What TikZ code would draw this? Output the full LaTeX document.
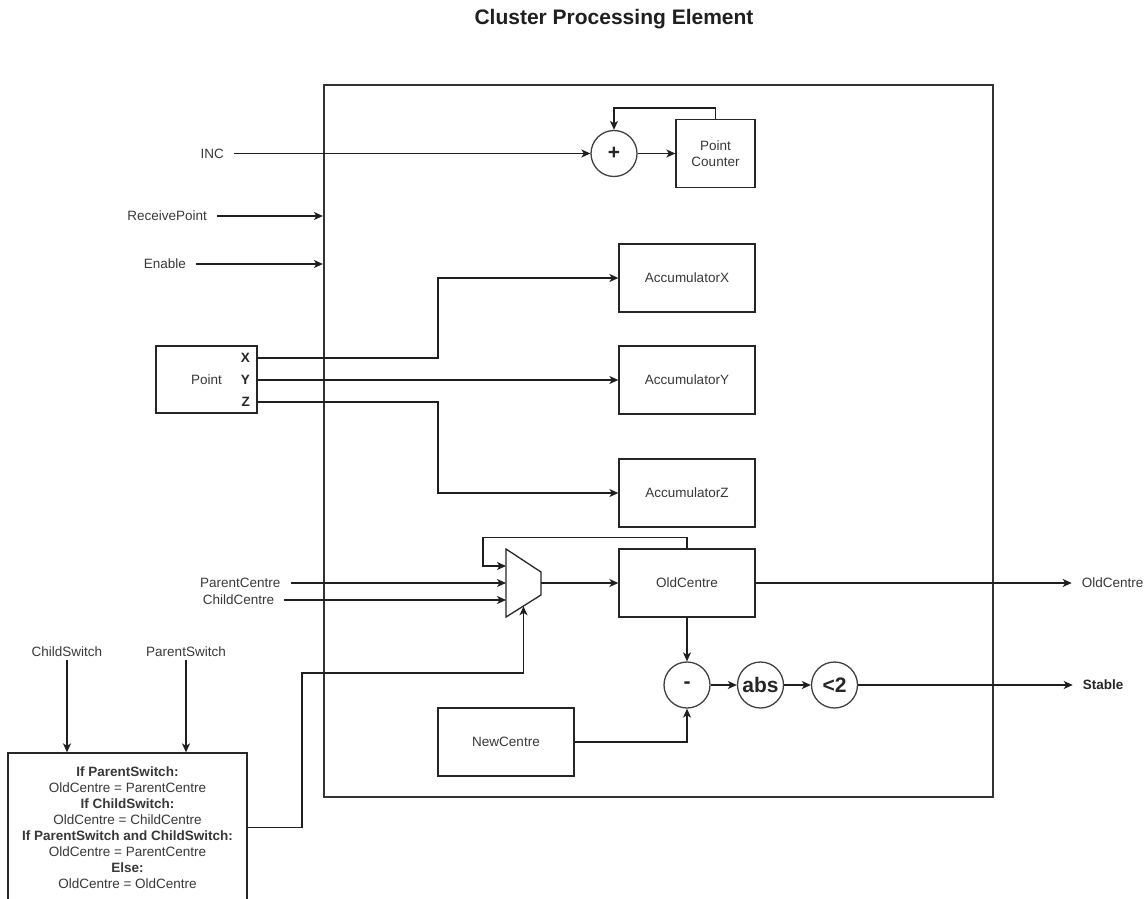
\documentclass[tikz,border=0pt]{standalone}
\usepackage{fontspec}
\setmainfont{Liberation Sans}
\usetikzlibrary{arrows.meta,calc}
\begin{document}
\begin{tikzpicture}[x=1pt,y=-1pt,
  every node/.style={font=\fontsize{13.5}{16}\selectfont, text=black!78},
  wire/.style={line width=1.3pt, draw=black!88},
  arr/.style={wire, -{Stealth[length=9pt,width=8pt,inset=2.5pt]}},
  block/.style={draw=black!85, line width=1.3pt, inner sep=0pt, fill=white, align=center},
  op/.style={circle, draw=black!75, line width=1.3pt, minimum size=46pt, inner sep=0pt,
    font=\fontsize{21}{24}\selectfont\bfseries, text=black!85},
  lbl/.style={inner xsep=10pt, inner ysep=2pt},
  bold/.style={font=\fontsize{13.5}{16}\selectfont\bfseries, text=black!85},
]
\useasboundingbox (0,0) rectangle (1146,899);

% title
\node[font=\fontsize{21}{24}\selectfont\bfseries, text=black!88] (title) at (614,19) {Cluster Processing Element};

% processing element outline
\node[draw=black!80, line width=2.2pt, minimum width=669pt, minimum height=712pt] (pe) at (658.5,441) {};

% point counter
\node[op] (plus) at (614,153.5) {+};
\node[block, minimum width=79pt, minimum height=68pt] (pc) at (715.5,153.5) {Point\\Counter};
\node[lbl, anchor=east] (inc) at (234,153.5) {INC};
\draw[arr] (inc.east) -- (plus.west);
\draw[arr] (plus.east) -- (pc.west);
\draw[arr] (pc.north) -- ++(0,-11) -| (plus.north);

% control inputs
\node[lbl, anchor=east] (rp) at (217,216) {ReceivePoint};
\draw[arr] (rp.east) -- (rp.east -| pe.west);
\node[lbl, anchor=east] (en) at (196,264) {Enable};
\draw[arr] (en.east) -- (en.east -| pe.west);

% accumulators
\node[block, minimum width=136pt, minimum height=68pt] (ax) at (687,278) {AccumulatorX};
\node[block, minimum width=136pt, minimum height=68pt] (ay) at (687,380) {AccumulatorY};
\node[block, minimum width=136pt, minimum height=68pt] (az) at (687,493) {AccumulatorZ};

% point input
\node[block, minimum width=101pt, minimum height=67pt] (pt) at (206.5,379.5) {Point};
\node[bold, anchor=east, inner sep=0pt] (px) at (250,358) {X};
\node[bold, anchor=east, inner sep=0pt] (py) at (250,380) {Y};
\node[bold, anchor=east, inner sep=0pt] (pz) at (250,402) {Z};
\coordinate (jog) at (438,0);
\draw[arr] (pt.east |- px) -| (jog |- ax) -- (ax.west);
\draw[arr] (pt.east |- py) -- (ay.west);
\draw[arr] (pt.east |- pz) -| (jog |- az) -- (az.west);

% centre selection multiplexer
\coordinate (m1) at (506,549);
\coordinate (m2) at (541,572);
\coordinate (m3) at (541,595);
\coordinate (m4) at (506,617);
\draw[block] (m1) -- (m2) -- (m3) -- (m4) -- cycle;
\coordinate (mfb) at (506,566);
\coordinate (mpc) at (506,583);
\coordinate (mcc) at (506,600);
\coordinate (mout) at (541,583);
\coordinate (msel) at (523.5,606.3);
\coordinate (fbx) at (483,566);

\node[block, minimum width=136pt, minimum height=68pt] (oc) at (687,583) {OldCentre};
\draw[arr] (mout) -- (oc.west);
\draw[arr] (oc.north) -- ++(0,-11) -| (fbx) -- (mfb);

\node[lbl, anchor=east] (pcen) at (290.7,583) {ParentCentre};
\node[lbl, anchor=east] (ccen) at (284.3,600) {ChildCentre};
\draw[arr] (pcen.east) -- (mpc);
\draw[arr] (ccen.east) -- (mcc);

\node[lbl, anchor=west] (oco) at (1071.7,583) {OldCentre};
\draw[arr] (oc.east) -- (oco.west);

% stability check
\node[op] (minus) at (687,685) {-};
\node[op] (abs) at (760.5,685) {abs};
\node[op] (lt) at (834.5,685) {<2};
\node[lbl, bold, anchor=west] (stable) at (1072.7,685) {Stable};
\draw[arr] (oc.south) -- (minus.north);
\draw[arr] (minus) -- (abs);
\draw[arr] (abs) -- (lt);
\draw[arr] (lt) -- (stable.west);

\node[block, minimum width=136pt, minimum height=68pt] (nc) at (506,742) {NewCentre};
\draw[arr] (nc.east) -| (minus.south);

% switch logic
\node[block, minimum width=239pt, minimum height=149pt] (cond) at (127.5,827.5)
  {\textbf{If ParentSwitch:}\\OldCentre = ParentCentre\\
   \textbf{If ChildSwitch:}\\OldCentre = ChildCentre\\
   \textbf{If ParentSwitch and ChildSwitch:}\\OldCentre = ParentCentre\\
   \textbf{Else:}\\OldCentre = OldCentre};
\node (cs) at (67,652) {ChildSwitch};
\node (ps) at (186,652) {ParentSwitch};
\draw[arr] (cs.south) -- (cs.south |- cond.north);
\draw[arr] (ps.south) -- (ps.south |- cond.north);
\coordinate (selc) at (302,673);
\draw[arr] (cond.east) -| (selc) -| (msel);
\end{tikzpicture}
\end{document}
